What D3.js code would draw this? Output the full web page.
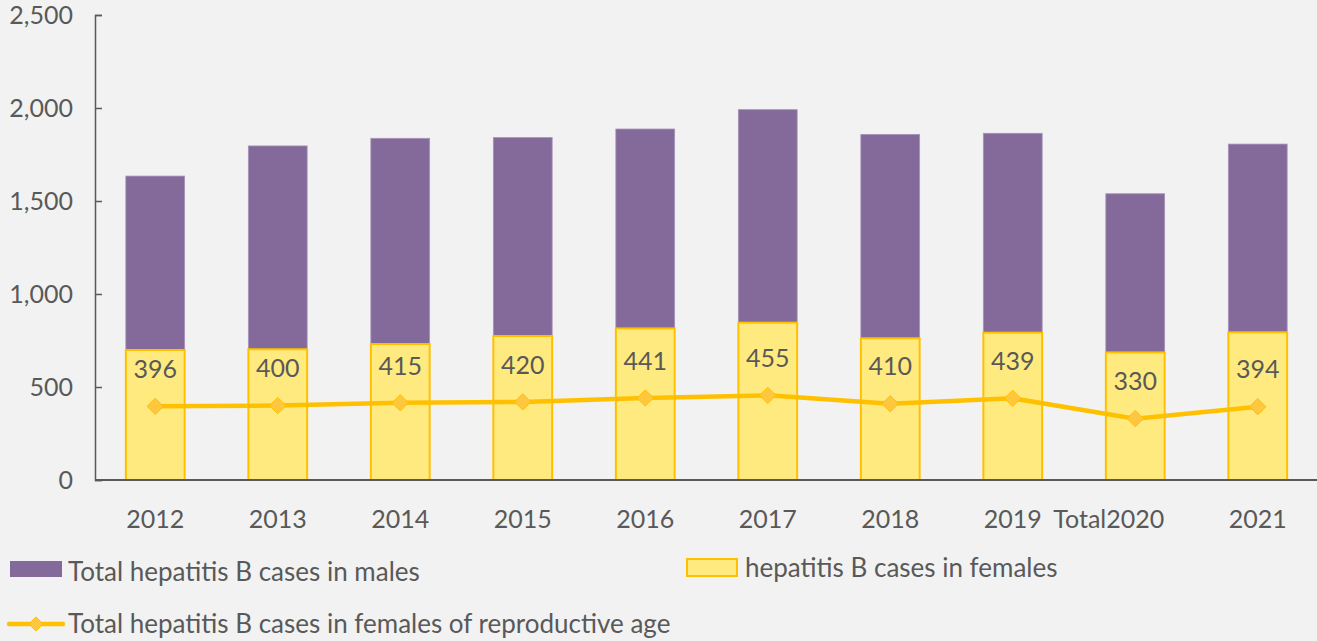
<!DOCTYPE html>
<html lang="en">
<head>
  <meta charset="UTF-8">
  <title>Hepatitis B cases by year</title>
  <script src="https://cdn.jsdelivr.net/npm/d3@7"></script>
</head>
<style>
  body { margin: 0; background: #f2f2f2; }
  svg { display: block; }
  text { font-family: Lato, "Open Sans", sans-serif; fill: #595959; }
</style>
<body>
<svg width="1317" height="641"></svg>
<script>
  // data
  var years = ["2012", "2013", "2014", "2015", "2016", "2017", "2018", "2019", "2020", "2021"];
  var females = [699, 703, 731, 774, 815, 846, 762, 792, 686, 794];
  var males = [935, 1093, 1106, 1067, 1072, 1145, 1096, 1072, 853, 1012];
  var reproductive = [396, 400, 415, 420, 441, 455, 410, 439, 330, 394];
  var yTicks = [0, 500, 1000, 1500, 2000, 2500];

  var svg = d3.select("svg");

  var x = d3.scaleBand().domain(years).range([94, 1319]).paddingInner(0.52).paddingOuter(0.26);
  var y = d3.scaleLinear().domain([0, 2500]).range([480, 15]);
  var fmt = d3.format(",");

  var rows = years.map(function(yr, i) {
    return {year: yr, f: females[i], m: males[i], r: reproductive[i]};
  });

  // bars: females at the bottom, males stacked on top
  svg.append("g").selectAll("rect")
    .data(rows).enter().append("rect")
      .attr("x", function(d) { return x(d.year); })
      .attr("width", x.bandwidth())
      .attr("y", function(d) { return y(d.f + d.m); })
      .attr("height", function(d) { return y(d.f) - y(d.f + d.m); })
      .attr("fill", "#836a9a")
      .attr("stroke", "#a792ba")
      .attr("stroke-width", 0.8);

  svg.append("g").selectAll("rect")
    .data(rows).enter().append("rect")
      .attr("x", function(d) { return x(d.year); })
      .attr("width", x.bandwidth())
      .attr("y", function(d) { return y(d.f); })
      .attr("height", function(d) { return y(0) - y(d.f); })
      .attr("fill", "#ffea80")
      .attr("stroke", "#ffc000")
      .attr("stroke-width", 2);

  // axes
  var yAxis = svg.append("g")
    .attr("transform", "translate(95,0)")
    .call(d3.axisRight(y).tickValues(yTicks).tickSize(7).tickFormat(function() { return ""; }));
  yAxis.select(".domain").attr("stroke", "#595959").attr("stroke-width", 1.5);
  yAxis.selectAll(".tick line").attr("stroke", "#595959").attr("stroke-width", 1.5);

  svg.append("g").selectAll("text")
    .data(yTicks).enter().append("text")
      .attr("x", 73)
      .attr("y", function(d) { return y(d); })
      .attr("dy", "0.35em")
      .attr("text-anchor", "end")
      .style("font-size", "25px")
      .text(function(d) { return fmt(d); });

  var xAxis = svg.append("g")
    .attr("transform", "translate(0,480)")
    .call(d3.axisBottom(x).tickSize(0).tickPadding(30));
  xAxis.select(".domain").attr("d", "M95,0H1317").attr("stroke", "#595959").attr("stroke-width", 1.8);
  xAxis.selectAll("text").style("font-size", "25px").attr("fill", "#595959")
    .style("font-family", "Lato, 'Open Sans', sans-serif");

  // stray "Total" word sitting right before the 2020 label
  svg.append("text")
    .attr("x", x("2020") + x.bandwidth() / 2 - 29)
    .attr("y", 510)
    .attr("dy", "0.71em")
    .attr("text-anchor", "end")
    .style("font-size", "25px")
    .text("Total");

  // line for reproductive age females
  var cx = function(d) { return x(d.year) + x.bandwidth() / 2; };
  svg.append("path")
    .datum(rows)
    .attr("fill", "none")
    .attr("stroke", "#ffc000")
    .attr("stroke-width", 4.5)
    .attr("d", d3.line().x(cx).y(function(d) { return y(d.r); }));

  var diamond = d3.symbol().type(d3.symbolDiamond2).size(170);
  svg.append("g").selectAll("path")
    .data(rows).enter().append("path")
      .attr("transform", function(d) { return "translate(" + cx(d) + "," + y(d.r) + ")"; })
      .attr("d", diamond)
      .attr("fill", "#ffc73d")
      .attr("stroke", "#ffc000")
      .attr("stroke-width", 1);

  svg.append("g").selectAll("text")
    .data(rows).enter().append("text")
      .attr("x", cx)
      .attr("y", function(d) { return y(d.r) - 37; })
      .attr("dy", "0.35em")
      .attr("text-anchor", "middle")
      .style("font-size", "25px")
      .text(function(d) { return d.r; });

  // legend
  var lg = svg.append("g");
  lg.append("rect").attr("x", 10).attr("y", 561).attr("width", 52).attr("height", 16).attr("fill", "#836a9a");
  lg.append("text").attr("x", 68).attr("y", 572).attr("dy", "0.35em").style("font-size", "26px")
    .text("Total hepatitis B cases in males");

  lg.append("rect").attr("x", 687).attr("y", 559).attr("width", 50).attr("height", 17)
    .attr("fill", "#ffea80").attr("stroke", "#ffc000").attr("stroke-width", 2);
  lg.append("text").attr("x", 745).attr("y", 568).attr("dy", "0.35em").style("font-size", "26px")
    .text("hepatitis B cases in females");

  lg.append("line").attr("x1", 9).attr("x2", 63).attr("y1", 624).attr("y2", 624)
    .attr("stroke", "#ffc000").attr("stroke-width", 4.5).attr("stroke-linecap", "round");
  lg.append("path").attr("transform", "translate(36,624)").attr("d", d3.symbol().type(d3.symbolDiamond2).size(130))
    .attr("fill", "#ffc73d").attr("stroke", "#ffc000");
  lg.append("text").attr("x", 68).attr("y", 624).attr("dy", "0.35em").style("font-size", "26px")
    .text("Total hepatitis B cases in females of reproductive age");
</script>
</body>
</html>
